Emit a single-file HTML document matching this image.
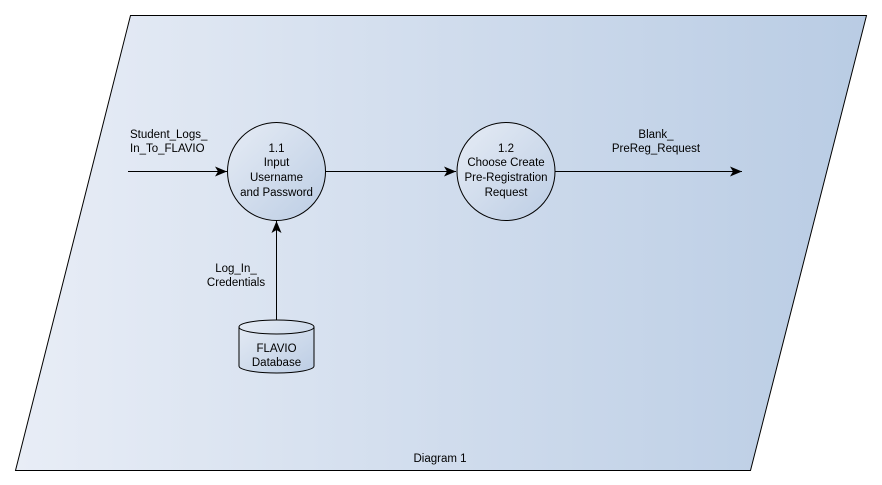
<!DOCTYPE html>
<html><head><meta charset="utf-8"><style>
html,body{margin:0;padding:0;background:#fff;}
svg{display:block;}
text{font-family:"Liberation Sans",Arial,sans-serif;font-size:11.5px;fill:#000;}
</style></head><body>
<svg width="882" height="485" viewBox="0 0 882 485" xmlns="http://www.w3.org/2000/svg">
<defs>
<linearGradient id="bg" x1="0" y1="0" x2="1" y2="0">
<stop offset="0" stop-color="#e8edf6"/><stop offset="1" stop-color="#b9cce4"/>
</linearGradient>
<linearGradient id="cg" x1="0" y1="0" x2="1" y2="1">
<stop offset="0" stop-color="#e6ecf5"/><stop offset="1" stop-color="#bccde4"/>
</linearGradient>
<marker id="ar" viewBox="0 0 12 10" refX="12" refY="5" markerWidth="12" markerHeight="10" markerUnits="userSpaceOnUse" orient="auto">
<path d="M0,0 L12,5 L0,10 L3,5 Z" fill="#000"/>
</marker>
</defs>
<polygon points="130.5,15.5 866.5,15.5 750.5,470.5 15.5,470.5" fill="url(#bg)" stroke="#000" stroke-width="1"/>
<text x="440" y="462" text-anchor="middle">Diagram 1</text>

<line x1="128" y1="171.5" x2="227" y2="171.5" stroke="#000" marker-end="url(#ar)"/>
<text x="130" y="138">Student_Logs_</text>
<text x="130" y="152">In_To_FLAVIO</text>

<circle cx="276.5" cy="171.5" r="49" fill="url(#cg)" stroke="#000"/>
<text x="276.5" y="152" text-anchor="middle">1.1</text>
<text x="276.5" y="166" text-anchor="middle">Input</text>
<text x="276.5" y="181" text-anchor="middle">Username</text>
<text x="276.5" y="196" text-anchor="middle">and Password</text>

<line x1="325.5" y1="171.5" x2="456" y2="171.5" stroke="#000" marker-end="url(#ar)"/>

<circle cx="506" cy="171.5" r="49" fill="url(#cg)" stroke="#000"/>
<text x="506" y="152" text-anchor="middle">1.2</text>
<text x="506" y="166" text-anchor="middle">Choose Create</text>
<text x="506" y="181" text-anchor="middle">Pre-Registration</text>
<text x="506" y="196" text-anchor="middle">Request</text>

<line x1="555" y1="171.5" x2="742" y2="171.5" stroke="#000" marker-end="url(#ar)"/>
<text x="656" y="138" text-anchor="middle">Blank_</text>
<text x="656" y="152" text-anchor="middle">PreReg_Request</text>

<line x1="276.5" y1="320" x2="276.5" y2="221" stroke="#000" marker-end="url(#ar)"/>
<text x="236" y="272" text-anchor="middle">Log_In_</text>
<text x="236" y="286" text-anchor="middle">Credentials</text>

<path d="M239,327 L239,366 A37.5,7 0 0 0 314,366 L314,327 A37.5,7 0 0 0 239,327 Z" fill="url(#cg)" stroke="#000"/>
<path d="M239,327 A37.5,7 0 0 0 314,327" fill="none" stroke="#000"/>
<text x="276.5" y="352" text-anchor="middle">FLAVIO</text>
<text x="276.5" y="366" text-anchor="middle">Database</text>
</svg>
</body></html>
